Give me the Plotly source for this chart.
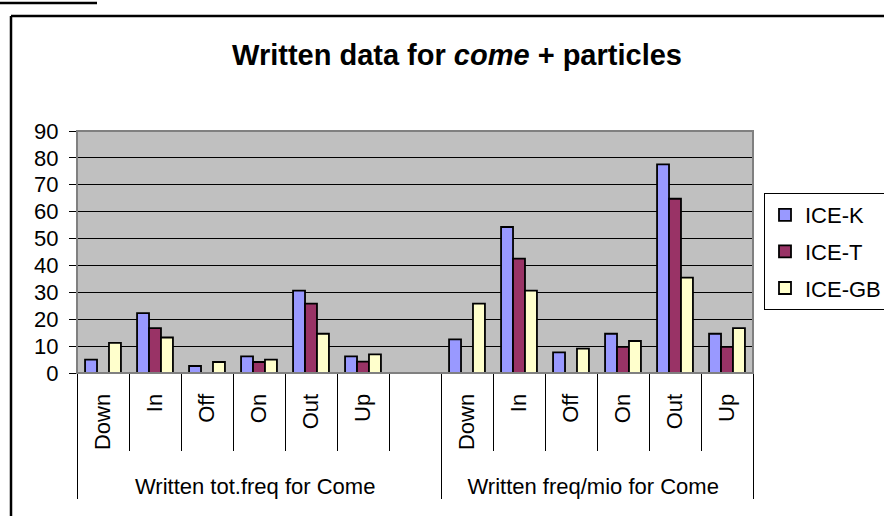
import plotly.graph_objects as go

# ---- data ----
particles = ["Down", "In", "Off", "On", "Out", "Up"]
group_tot = "Written tot.freq for Come"
group_mio = "Written freq/mio for Come"
blank_slot = " "

ice_k_tot = [5.0, 22.3, 2.6, 6.2, 30.6, 6.2]
ice_t_tot = [None, 16.7, None, 4.1, 25.8, 4.2]
ice_gb_tot = [11.2, 13.2, 4.1, 5.0, 14.6, 6.9]

ice_k_mio = [12.5, 54.3, 7.7, 14.6, 77.6, 14.6]
ice_t_mio = [None, 42.5, None, 9.7, 64.8, 9.7]
ice_gb_mio = [25.8, 30.6, 9.1, 11.9, 35.5, 16.7]

series_names = ["ICE-K", "ICE-T", "ICE-GB"]
series_colors = ["#9999FF", "#993366", "#FFFFCC"]
y_ticks = list(range(0, 100, 10))

# ---- build ----
PAD = "\u00a0\u00a0"  # extends the rotated label box so the group row sits lower
level1 = [group_tot] * (len(particles) + 1) + [group_mio] * len(particles)
level2 = [PAD + p for p in particles] + [blank_slot] + [PAD + p for p in particles]
values = [
    ice_k_tot + [None] + ice_k_mio,
    ice_t_tot + [None] + ice_t_mio,
    ice_gb_tot + [None] + ice_gb_mio,
]

W, H = 884, 516
L, R, T, B = 77, 131, 131, 143
PW, PH = W - L - R, H - T - B


def px_x(p):
    return (p - L) / PW


def px_y(p):
    return (H - B - p) / PH


FONT = "Arial, Liberation Sans, sans-serif"

fig = go.Figure()
for name, color, vals in zip(series_names, series_colors, values):
    fig.add_trace(go.Bar(
        x=[level1, level2], y=vals, name=name,
        marker=dict(color=color, line=dict(color="black", width=1.8)),
        legendgroup=name,
    ))

# invisible helper trace to carry the category ticks on an overlaid axis
fig.add_trace(go.Scatter(
    x=[level1, level2], y=[0] * len(level1), xaxis="x2", mode="markers",
    marker=dict(opacity=0), showlegend=False, hoverinfo="skip",
))

n = len(level1)
fig.update_layout(
    width=W, height=H,
    margin=dict(l=L, r=R, t=T, b=B, pad=0, autoexpand=False),
    paper_bgcolor="white", plot_bgcolor="#C0C0C0",
    font=dict(family=FONT, color="black", size=22),
    barmode="group", bargap=0.31, bargroupgap=0,
    title=dict(
        text="<b>Written data for <i>come</i> + particles</b>",
        font=dict(size=29, family=FONT, color="black"),
        x=px_x(457), xref="paper", xanchor="center",
        y=1 - 55 / H, yref="container", yanchor="middle",
    ),
    xaxis=dict(
        type="multicategory", range=[-0.5, n - 0.5],
        showline=True, linecolor="black", linewidth=1,
        ticks="", tickangle=-90, tickfont=dict(size=22),
        ticklabelstandoff=11,
        showdividers=True, dividercolor="black", dividerwidth=1,
        showgrid=False, zeroline=False,
    ),
    xaxis2=dict(
        type="multicategory", range=[-0.5, n - 0.5], overlaying="x",
        anchor="y", side="bottom",
        showticklabels=False, ticks="outside", ticklen=77,
        tickcolor="black", tickwidth=1, tickson="boundaries",
        showdividers=False, showgrid=False, zeroline=False, showline=False,
    ),
    yaxis=dict(
        range=[0, 90], tickvals=y_ticks,
        showgrid=True, gridcolor="black", gridwidth=1,
        showline=True, linecolor="black", linewidth=1,
        ticks="outside", ticklen=7, tickcolor="black",
        tickfont=dict(size=22), ticklabelstandoff=6,
        zeroline=False,
    ),
    legend=dict(
        x=px_x(764), xanchor="left", y=px_y(193), yanchor="top",
        bordercolor="black", borderwidth=1, bgcolor="white",
        font=dict(size=22), traceorder="grouped", tracegroupgap=5,
        itemwidth=30,
    ),
    shapes=[
        # plot-area border (grey)
        dict(type="rect", xref="paper", yref="paper", x0=0, x1=1, y0=0, y1=1,
             line=dict(color="#808080", width=2), layer="above"),
        # outer chart frame
        dict(type="line", xref="paper", yref="paper",
             x0=px_x(11), x1=px_x(890), y0=px_y(16), y1=px_y(16),
             line=dict(color="black", width=2.5)),
        dict(type="line", xref="paper", yref="paper",
             x0=px_x(11), x1=px_x(11), y0=px_y(16), y1=px_y(520),
             line=dict(color="black", width=2.5)),
        dict(type="line", xref="paper", yref="paper",
             x0=px_x(0), x1=px_x(97), y0=px_y(3), y1=px_y(3),
             line=dict(color="black", width=2.5)),
    ],
)

fig.write_html(
    "out.html",
    config={"displayModeBar": False},
    post_script="document.body.style.margin='0';document.body.style.overflow='hidden';",
)
